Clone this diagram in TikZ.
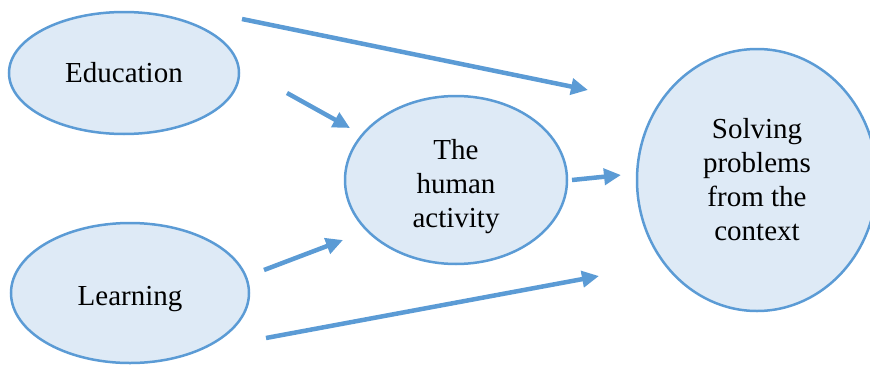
\documentclass[tikz,border=0pt]{standalone}
\usepackage{fontspec}
\setmainfont{Liberation Serif}
\usepackage{tikz}
\usetikzlibrary{shapes.geometric,arrows.meta}
\definecolor{blobfill}{HTML}{DEEAF6}
\definecolor{blobline}{HTML}{5B9BD5}
\tikzset{
  blob/.style={ellipse, draw=blobline, fill=blobfill, line width=2.5pt, inner sep=0pt,
    align=center, font=\fontsize{29}{34}\selectfont},
  link/.style={draw=blobline, line width=4.5pt, -{Triangle[length=17pt,width=16pt]}}
}
\begin{document}
\begin{tikzpicture}[x=1pt,y=-1pt]
 \useasboundingbox (0,0) rectangle (870,367);
 \node (edu) [blob, minimum width=230pt, minimum height=122pt] at (124,73) {Education};
 \node (lrn) [blob, minimum width=238pt, minimum height=140pt, text height=32pt] at (130,293) {Learning};
 \node (hum) [blob, minimum width=222pt, minimum height=168pt, text height=101pt] at (456,180) {The\\ human\\ activity};
 \node (sol) [blob, minimum width=240pt, minimum height=262pt] at (757,180) {Solving\\ problems\\ from the\\ context};
 % free ends of the arrows
 \coordinate (e1) at (242,19);  \coordinate (s1) at (588,90);
 \coordinate (e2) at (287,93);  \coordinate (h1) at (350,128);
 \coordinate (h2) at (572,180); \coordinate (s2) at (621,175);
 \coordinate (l1) at (264,270); \coordinate (h3) at (343,240);
 \coordinate (l2) at (266,338); \coordinate (s3) at (599,276);
 \path
  (e1) edge[link] (s1)
  (e2) edge[link] (h1)
  (h2) edge[link] (s2)
  (l1) edge[link] (h3)
  (l2) edge[link] (s3)
;
\end{tikzpicture}
\end{document}
